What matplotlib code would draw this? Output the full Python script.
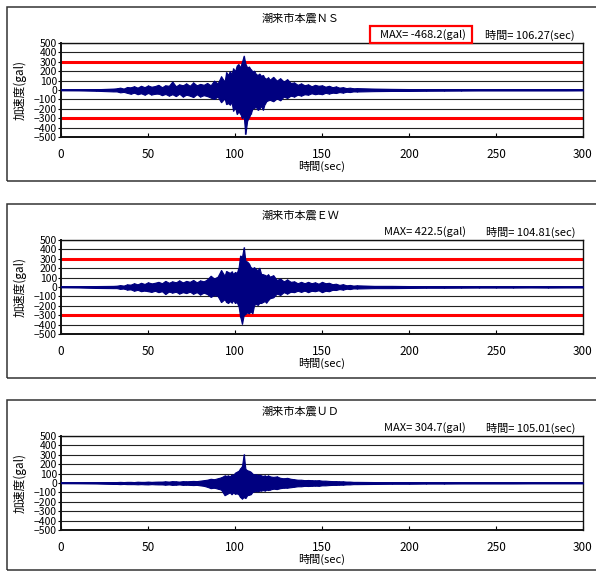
import numpy as np
import matplotlib
matplotlib.use("Agg")
import matplotlib.pyplot as plt
from matplotlib.patches import Rectangle

plt.rcParams['font.family'] = ['Noto Sans CJK JP', 'DejaVu Sans']

# sample times (sec) of the envelope knots
t_knot = [0, 10, 20, 30,
          32, 34, 36, 38, 40, 42, 44, 46, 48, 50, 52, 54, 56, 58, 60, 62,
          64, 66, 68, 70, 72, 74, 76, 78, 80, 82, 84, 86, 88, 90, 92, 94,
          95, 96, 97, 98, 99, 100, 101, 102, 103, 104, 105, 106, 107, 108,
          109, 110, 111, 112, 113, 114, 115, 116, 117, 118, 119, 120,
          122, 124, 126, 128, 130, 132, 134, 136, 138, 140, 142, 144, 146,
          148, 150, 152, 154, 156, 158, 160, 162, 164, 166, 168, 170,
          180, 190, 200, 210, 220, 230, 240, 250, 260, 270, 280, 290, 300]

# positive / negative peaks (gal) around each knot
ns_hi = [3, 4, 8, 15,
         18, 25, 15, 32, 28, 40, 25, 45, 30, 48, 35, 42, 55, 30, 50, 45,
         90, 40, 60, 50, 70, 45, 80, 50, 65, 55, 75, 50, 100, 70, 145, 90,
         190, 160, 200, 170, 230, 200, 260, 275, 240, 300, 365, 280, 240, 250,
         220, 200, 205, 170, 160, 175, 150, 160, 130, 120, 135, 110,
         140, 100, 125, 90, 115, 75, 80, 55, 70, 50, 60, 40, 55,
         45, 50, 35, 45, 30, 38, 25, 30, 20, 25, 18, 20,
         15, 12, 10, 8, 8, 6, 5, 5, 6, 5, 5, 5, 4]
ns_lo = [-3, -4, -8, -15,
         -15, -25, -20, -30, -40, -28, -45, -35, -50, -32, -48, -40, -38, -55, -42, -60,
         -45, -65, -40, -70, -50, -60, -75, -45, -70, -55, -65, -80, -95, -70, -130, -90,
         -150, -140, -155, -130, -220, -180, -255, -230, -250, -300, -280, -468, -325, -290,
         -250, -200, -190, -180, -210, -200, -170, -210, -150, -120, -110, -105,
         -120, -90, -110, -70, -85, -60, -70, -50, -60, -45, -50, -35, -45,
         -38, -45, -30, -38, -28, -32, -22, -28, -18, -22, -15, -16,
         -12, -10, -10, -8, -7, -6, -5, -5, -5, -5, -5, -5, -4]

ew_hi = [3, 5, 10, 12,
         14, 20, 15, 28, 25, 40, 28, 45, 32, 50, 38, 45, 55, 40, 65, 45,
         60, 50, 70, 48, 65, 55, 75, 50, 70, 60, 80, 120, 90, 110, 180, 120,
         170, 160, 150, 165, 140, 160, 150, 200, 335, 320, 422, 280, 270, 250,
         210, 200, 210, 190, 180, 205, 140, 135, 130, 120, 135, 110,
         125, 75, 90, 60, 80, 55, 60, 40, 55, 40, 55, 40, 50,
         35, 55, 40, 45, 30, 35, 22, 30, 18, 22, 15, 18,
         12, 12, 10, 8, 8, 7, 6, 6, 6, 5, 6, 5, 5]
ew_lo = [-3, -5, -10, -12,
         -12, -20, -16, -28, -25, -40, -30, -45, -38, -45, -52, -40, -55, -45, -75, -48,
         -60, -50, -70, -55, -65, -50, -72, -55, -80, -60, -75, -105, -85, -95, -160, -130,
         -160, -170, -150, -165, -140, -170, -160, -200, -315, -390, -300, -285, -270, -280,
         -260, -280, -190, -180, -190, -170, -170, -160, -150, -165, -140, -120,
         -110, -70, -85, -55, -70, -50, -55, -40, -52, -38, -55, -40, -45,
         -35, -55, -40, -45, -30, -32, -22, -28, -18, -22, -15, -16,
         -12, -12, -10, -8, -8, -7, -6, -6, -6, -5, -6, -5, -5]

ud_hi = [2, 3, 5, 10,
         10, 12, 10, 12, 12, 10, 14, 12, 12, 15, 12, 14, 15, 15, 18, 15,
         20, 18, 15, 20, 18, 20, 22, 20, 25, 30, 35, 45, 40, 50, 60, 80,
         75, 80, 70, 90, 85, 110, 120, 130, 155, 180, 305, 150, 135, 130,
         120, 100, 90, 95, 85, 90, 80, 75, 80, 70, 80, 70,
         65, 70, 55, 50, 55, 45, 40, 35, 35, 30, 32, 30, 28,
         30, 25, 25, 22, 20, 20, 18, 18, 15, 15, 12, 12,
         10, 8, 8, 6, 6, 5, 5, 5, 5, 4, 4, 4, 4]
ud_lo = [-2, -3, -5, -10,
         -10, -12, -10, -12, -12, -12, -14, -12, -14, -15, -12, -14, -15, -15, -18, -15,
         -20, -18, -15, -20, -18, -20, -22, -20, -25, -30, -40, -55, -50, -60, -70, -130,
         -120, -110, -100, -120, -100, -115, -110, -120, -150, -165, -150, -160, -130, -125,
         -120, -95, -90, -85, -90, -80, -80, -75, -80, -70, -75, -70,
         -60, -65, -55, -50, -50, -45, -40, -35, -35, -30, -32, -30, -28,
         -30, -25, -25, -22, -20, -20, -18, -18, -15, -15, -12, -12,
         -10, -8, -8, -6, -6, -5, -5, -5, -5, -4, -4, -4, -4]

titles = ['潮来市本震ＮＳ', '潮来市本震ＥＷ', '潮来市本震ＵＤ']
max_text = ['MAX= -468.2(gal)', 'MAX= 422.5(gal)', 'MAX= 304.7(gal)']
time_text = ['時間= 106.27(sec)', '時間= 104.81(sec)', '時間= 105.01(sec)']
limit_lines = [300, 300, None]
y_ticks = [500, 400, 300, 200, 100, 0, -100, -200, -300, -400, -500]
x_ticks = [0, 50, 100, 150, 200, 250, 300]

W, H = 596, 571


def fx(px):
    return px / W


def fy(py):
    return 1 - py / H


waves = [(ns_hi, ns_lo), (ew_hi, ew_lo), (ud_hi, ud_lo)]
offsets = [0, 197, 393]
navy = '#000080'

fig = plt.figure(figsize=(W / 100, H / 100), dpi=100)

for i, (hi, lo) in enumerate(waves):
    off = offsets[i]
    # outer frame of each chart
    box_bot = min(181 + off, 570)
    fig.add_artist(Rectangle((fx(7), fy(box_bot)), fx(600 - 7), fy(7 + off) - fy(box_bot),
                             transform=fig.transFigure, fill=False,
                             edgecolor='#333333', linewidth=1.1))

    ax = fig.add_axes([fx(61), fy(137 + off), fx(583 - 61), (137 - 43) / H])
    for v in y_ticks:
        ax.axhline(v, color='#222222', linewidth=0.8, zorder=1)
    if limit_lines[i]:
        ax.axhline(limit_lines[i], color='#ff0000', linewidth=2.2, zorder=2)
        ax.axhline(-limit_lines[i], color='#ff0000', linewidth=2.2, zorder=2)
    # record drawn as the band between its positive and negative peaks
    ax.fill_between(t_knot, lo, hi, facecolor=navy, edgecolor=navy,
                    linewidth=0.8, zorder=3)
    ax.vlines(t_knot, lo, hi, color=navy, linewidth=0.9, zorder=3)
    ax.axhline(0, color=navy, linewidth=1.4, zorder=3)

    ax.set_xlim(0, 300)
    ax.set_ylim(-500, 500)
    ax.set_xticks(x_ticks)
    ax.set_yticks(y_ticks)
    ax.tick_params(axis='x', direction='in', length=3, pad=8, labelsize=8.5)
    ax.tick_params(axis='y', direction='out', length=2, pad=1, labelsize=7.5)
    for s in ax.spines.values():
        s.set_color('#111111')
        s.set_linewidth(1.0)
    ax.spines['left'].set_linewidth(1.4)
    ax.spines['bottom'].set_linewidth(1.4)

    fig.text(fx(301), fy(19 + off), titles[i], ha='center', va='center', fontsize=8)
    fig.text(fx(466), fy(35 + off), max_text[i], ha='right', va='center', fontsize=8)
    fig.text(fx(575), fy(35 + off), time_text[i], ha='right', va='center', fontsize=8)
    fig.text(fx(322), fy(166 + off), '時間(sec)', ha='center', va='center', fontsize=8)
    fig.text(fx(20), fy(90 + off), '加速度(gal)', ha='center', va='center',
             rotation=90, fontsize=8.5)

# red frame around the peak value of the NS record
fig.add_artist(Rectangle((fx(370), fy(43)), fx(472 - 370), fy(26) - fy(43),
                         transform=fig.transFigure, fill=False,
                         edgecolor='#ff0000', linewidth=1.6))

fig.savefig('out.png', dpi=100)
